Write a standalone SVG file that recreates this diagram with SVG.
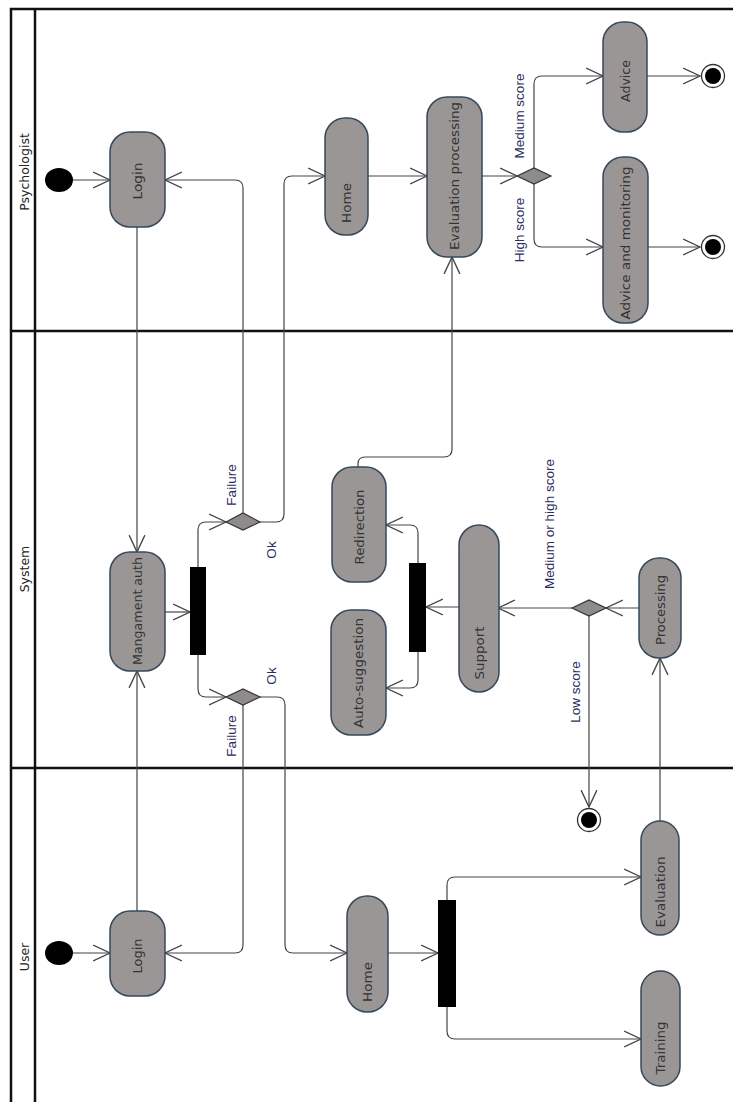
<svg xmlns="http://www.w3.org/2000/svg" width="733" height="1102" viewBox="0 0 733 1102">
<style>
.frame{stroke:#111;stroke-width:2.5;fill:none}
.node rect.act{fill:#9b9696;stroke:#34495a;stroke-width:1.5}
.t{font-family:"DejaVu Sans",Verdana,sans-serif;font-size:12.5px;fill:#333;text-anchor:middle;dominant-baseline:central}
.lane{font-family:"DejaVu Sans",Verdana,sans-serif;font-size:12.5px;fill:#222;text-anchor:middle;dominant-baseline:central}
.lbl{font-family:"Liberation Sans",Arial,sans-serif;font-size:13.5px;fill:#2b2d5c;text-anchor:middle;dominant-baseline:central}
.c{fill:none;stroke:#444;stroke-width:1.2;marker-end:url(#arr)}
.dia{fill:#8f8b8b;stroke:#333;stroke-width:1.2}
.bar{fill:#000}
</style>
<defs>
<marker id="arr" markerUnits="userSpaceOnUse" markerWidth="18" markerHeight="18" viewBox="0 0 16 16" refX="15" refY="8" orient="auto">
<path d="M0,1 L15,8 L0,15" fill="none" stroke="#444" stroke-width="1.2"/>
</marker>
</defs>
<rect width="733" height="1102" fill="#fff"/>
<g id="frame">
<path class="frame" d="M11,1102 V9 H733 M35,9 V1102 M11,331 H733 M11,768 H733"/>
<text class="lane" transform="translate(24,172) rotate(-90)">Psychologist</text>
<text class="lane" transform="translate(24,569) rotate(-90)">System</text>
<text class="lane" transform="translate(24,957) rotate(-90)">User</text>
</g>
<g id="connectors">
<path class="c" d="M73,180 H110"/>
<path class="c" d="M137,227 V552"/>
<path class="c" d="M73,953 H110"/>
<path class="c" d="M137,911 V671"/>
<path class="c" d="M165,612 H190"/>
<path class="c" d="M198,567 V530 Q198,522 206,522 H226"/>
<path class="c" d="M198,655 V689 Q198,697 206,697 H226"/>
<path class="c" d="M243,513 V188 Q243,180 235,180 H165"/>
<path class="c" d="M260,522 H276 Q284,522 284,514 V184 Q284,176 292,176 H325"/>
<path class="c" d="M243,705 V945 Q243,953 235,953 H165"/>
<path class="c" d="M260,697 H277 Q285,697 285,705 V945 Q285,953 293,953 H347"/>
<path class="c" d="M368,176 H427"/>
<path class="c" d="M482,176 H517"/>
<path class="c" d="M534,168 V84 Q534,76 542,76 H603"/>
<path class="c" d="M534,184 V239 Q534,247 542,247 H603"/>
<path class="c" d="M647,76 H700"/>
<path class="c" d="M648,247 H700"/>
<path class="c" d="M358,467 V464 Q358,457 365,457 H444 Q452,457 452,449 V257"/>
<path class="c" d="M639,608 H606"/>
<path class="c" d="M572,608 H498"/>
<path class="c" d="M589,616 V807"/>
<path class="c" d="M459,607 H426"/>
<path class="c" d="M418,563 V533 Q418,525 410,525 H386"/>
<path class="c" d="M418,652 V680 Q418,688 410,688 H386"/>
<path class="c" d="M660,821 V658"/>
<path class="c" d="M388,953 H438"/>
<path class="c" d="M447,900 V885 Q447,877 455,877 H641"/>
<path class="c" d="M447,1007 V1031 Q447,1039 455,1039 H641"/>
<text class="lbl" transform="translate(231,485) rotate(-90)">Failure</text>
<text class="lbl" transform="translate(271,550) rotate(-90)">Ok</text>
<text class="lbl" transform="translate(271,676) rotate(-90)">Ok</text>
<text class="lbl" transform="translate(231,736) rotate(-90)">Failure</text>
<text class="lbl" transform="translate(519,116) rotate(-90)">Medium score</text>
<text class="lbl" transform="translate(519,230) rotate(-90)">High score</text>
<text class="lbl" transform="translate(549,524) rotate(-90)">Medium or high score</text>
<text class="lbl" transform="translate(575,692) rotate(-90)">Low score</text>
</g>
<g id="psy-start"><ellipse cx="59" cy="180" rx="14" ry="12" fill="#000"/></g>
<g id="psy-login" class="node"><rect class="act" x="110" y="132" width="55" height="95" rx="20"/><text class="t" transform="translate(137.5,181) rotate(-90)" textLength="37" lengthAdjust="spacingAndGlyphs">Login</text></g>
<g id="psy-home" class="node"><rect class="act" x="325" y="118" width="43" height="117" rx="20"/><text class="t" transform="translate(346.5,203) rotate(-90)" textLength="40" lengthAdjust="spacingAndGlyphs">Home</text></g>
<g id="eval-proc" class="node"><rect class="act" x="427" y="97" width="55" height="160" rx="20"/><text class="t" transform="translate(454.5,176) rotate(-90)" textLength="148" lengthAdjust="spacingAndGlyphs">Evaluation processing</text></g>
<g id="dec-score"><polygon class="dia" points="517,176 534,168 551,176 534,184"/></g>
<g id="advice" class="node"><rect class="act" x="603" y="22" width="44" height="110" rx="20"/><text class="t" transform="translate(625,81) rotate(-90)" textLength="42" lengthAdjust="spacingAndGlyphs">Advice</text></g>
<g id="advice-mon" class="node"><rect class="act" x="603" y="157" width="45" height="166" rx="20"/><text class="t" transform="translate(625.5,243) rotate(-90)" textLength="153" lengthAdjust="spacingAndGlyphs">Advice and monitoring</text></g>
<g id="end-advice"><circle cx="713" cy="76" r="11.5" fill="#fff" stroke="#333" stroke-width="1.3"/><circle cx="713" cy="76" r="8" fill="#000"/></g>
<g id="end-mon"><circle cx="713" cy="247" r="11.5" fill="#fff" stroke="#333" stroke-width="1.3"/><circle cx="713" cy="247" r="8" fill="#000"/></g>
<g id="mang-auth" class="node"><rect class="act" x="110" y="552" width="55" height="119" rx="20"/><text class="t" transform="translate(137.5,611) rotate(-90)" textLength="108" lengthAdjust="spacingAndGlyphs">Mangament auth</text></g>
<g id="fork-auth"><rect class="bar" x="190" y="567" width="16" height="88"/></g>
<g id="dec-auth-psy"><polygon class="dia" points="226,522 243,513 260,522 243,530"/></g>
<g id="dec-auth-user"><polygon class="dia" points="226,697 243,689 260,697 243,705"/></g>
<g id="redirection" class="node"><rect class="act" x="332" y="467" width="54" height="115" rx="20"/><text class="t" transform="translate(359,527) rotate(-90)" textLength="75" lengthAdjust="spacingAndGlyphs">Redirection</text></g>
<g id="auto-sugg" class="node"><rect class="act" x="331" y="610" width="55" height="125" rx="20"/><text class="t" transform="translate(358.5,673) rotate(-90)" textLength="110" lengthAdjust="spacingAndGlyphs">Auto-suggestion</text></g>
<g id="fork-support"><rect class="bar" x="409" y="563" width="17" height="89"/></g>
<g id="support" class="node"><rect class="act" x="459" y="525" width="40" height="167" rx="20"/><text class="t" transform="translate(479,653) rotate(-90)" textLength="53" lengthAdjust="spacingAndGlyphs">Support</text></g>
<g id="dec-proc"><polygon class="dia" points="572,608 589,600 606,608 589,616"/></g>
<g id="processing" class="node"><rect class="act" x="639" y="558" width="42" height="100" rx="20"/><text class="t" transform="translate(660,610) rotate(-90)" textLength="70" lengthAdjust="spacingAndGlyphs">Processing</text></g>
<g id="end-low"><circle cx="589" cy="820" r="11.5" fill="#fff" stroke="#333" stroke-width="1.3"/><circle cx="589" cy="820" r="8" fill="#000"/></g>
<g id="user-start"><ellipse cx="59" cy="953" rx="14" ry="12" fill="#000"/></g>
<g id="user-login" class="node"><rect class="act" x="110" y="911" width="55" height="85" rx="20"/><text class="t" transform="translate(137.5,956) rotate(-90)" textLength="35" lengthAdjust="spacingAndGlyphs">Login</text></g>
<g id="user-home" class="node"><rect class="act" x="347" y="896" width="41" height="116" rx="20"/><text class="t" transform="translate(367.5,982) rotate(-90)" textLength="40" lengthAdjust="spacingAndGlyphs">Home</text></g>
<g id="fork-user"><rect class="bar" x="438" y="900" width="18" height="107"/></g>
<g id="evaluation" class="node"><rect class="act" x="641" y="821" width="38" height="114" rx="19"/><text class="t" transform="translate(660,892) rotate(-90)" textLength="71" lengthAdjust="spacingAndGlyphs">Evaluation</text></g>
<g id="training" class="node"><rect class="act" x="641" y="971" width="39" height="115" rx="19.5"/><text class="t" transform="translate(660.5,1048) rotate(-90)" textLength="53" lengthAdjust="spacingAndGlyphs">Training</text></g>
</svg>
